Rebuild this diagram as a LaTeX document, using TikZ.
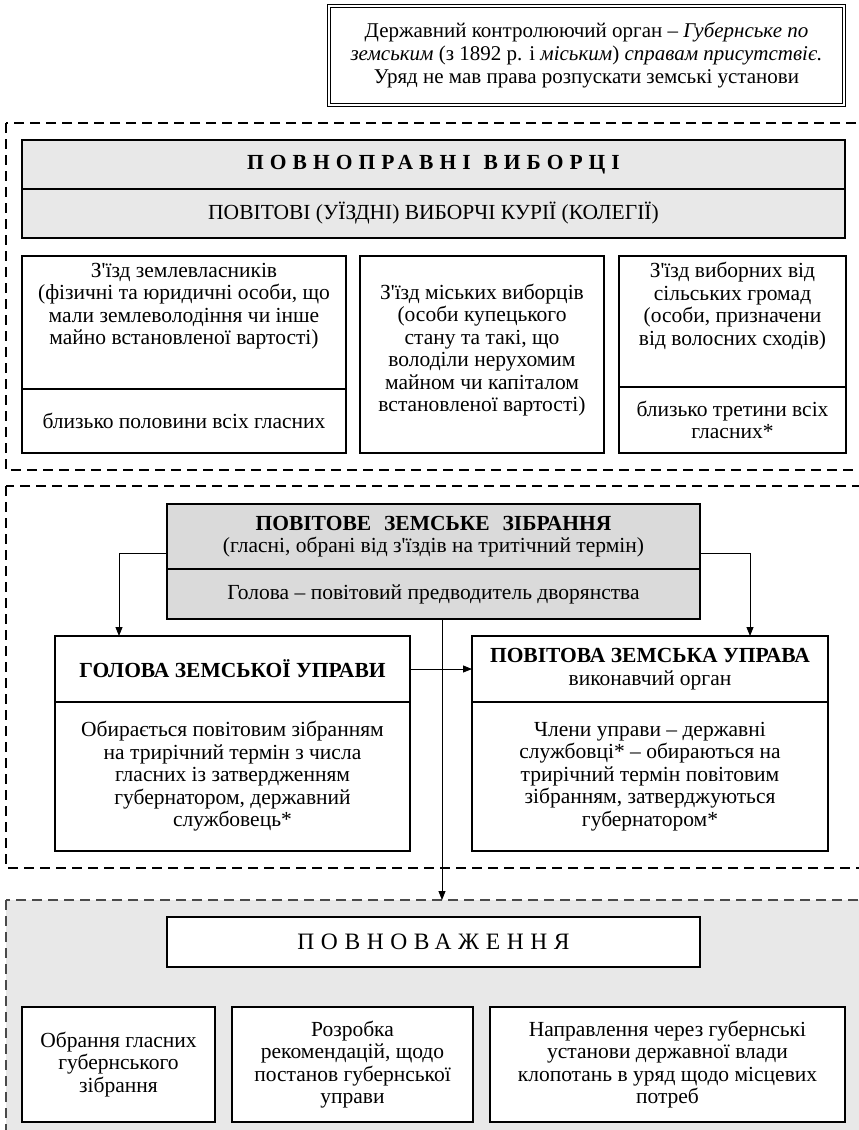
\documentclass[tikz,border=0pt]{standalone}
\usepackage{fontspec}
\setmainfont{Liberation Serif}
\newfontface\apfont{Liberation Serif}
\usetikzlibrary{arrows.meta,calc}
\definecolor{lightg}{HTML}{E8E8E8}
\definecolor{midg}{HTML}{DADADA}
\definecolor{dashg}{HTML}{4A4A4A}
\newcommand\apo{{\apfont '}}
\begin{document}
\begin{tikzpicture}[x=1pt,y=-1pt,
  every node/.style={font=\fontsize{21.5}{22.5}\selectfont, align=center, inner sep=0pt, outer sep=0pt},
  rect/.style={draw, line width=1.4pt, anchor=north west},
  frame/.style={draw, dash pattern=on 10pt off 6pt, line width=1.4pt},
  conn/.style={line width=0.9pt},
  arr/.style={conn, -{Triangle[length=9pt,width=7pt]}},
  hd/.style={font=\fontsize{21.5}{22.5}\selectfont\bfseries}
]
\useasboundingbox (0,0) rectangle (859,1130);

% top control box
\node[draw, double, double distance=2pt, line width=1pt, minimum width=515pt, minimum height=99pt,
  anchor=north west, font=\fontsize{21}{23}\selectfont] (ctrl) at (329,6)
  {Державний контролюючий орган – \textit{Губернське по}\\
   \textit{земським} (з 1892 р. і \textit{міським}) \textit{справам присутствіє.}\\
   Уряд не мав права розпускати земські установи};

% frame 1
\draw[frame] (6,123) rectangle (900,470);
\node[rect, fill=lightg, minimum width=823pt, minimum height=49pt] (hdr1) at (22,140)
  {\bfseries\addfontfeature{LetterSpace=28}ПОВНОПРАВНІ\hspace{0.6em}ВИБОРЦІ};
\node[rect, fill=lightg, minimum width=823pt, minimum height=49pt] (hdr2) at (22,189)
  {ПОВІТОВІ (УЇЗДНІ) ВИБОРЧІ КУРІЇ (КОЛЕГІЇ)};

\node[rect, minimum width=324pt, minimum height=133pt] (b1t) at (22,256) {};
\node[rect, minimum width=324pt, minimum height=64pt] (b1b) at (22,389) {близько половини всіх гласних};
\node (t1) at (184,306) {З\apo їзд землевласників\\(фізичні та юридичні особи, що\\мали землеволодіння чи інше\\майно встановленої вартості)};

\node[rect, minimum width=244pt, minimum height=197pt] (b2) at (360,256) {};
\node (t2) at (482,350) {З\apo їзд міських виборців\\(особи купецького\\стану та такі, що\\володіли нерухомим\\майном чи капіталом\\встановленої вартості)};

\node[rect, minimum width=227pt, minimum height=131pt] (b3t) at (619,256) {};
\node[rect, minimum width=227pt, minimum height=66pt] (b3b) at (619,387) {близько третини всіх\\гласних*};
\node (t3) at (732.5,306) {З\apo їзд виборних від\\сільських громад\\(особи, призначени\\від волосних сходів)};

% frame 2
\draw[frame] (6,486) rectangle (900,868);
\node[rect, fill=midg, minimum width=533pt, minimum height=65pt, font=\fontsize{21.5}{21.5}\selectfont] (g1) at (167,504)
  {\textbf{ПОВІТОВЕ\hspace{0.6em}ЗЕМСЬКЕ\hspace{0.6em}ЗІБРАННЯ}\\(гласні, обрані від з\apo їздів на тритічний термін)};
\node[rect, fill=midg, minimum width=533pt, minimum height=50pt] (g2) at (167,569)
  {Голова – повітовий предводитель дворянства};

\node[rect, fill=white, minimum width=355pt, minimum height=66pt, hd] (L1) at (55,636) {ГОЛОВА ЗЕМСЬКОЇ УПРАВИ};
\node[rect, fill=white, minimum width=355pt, minimum height=149pt] (L2) at (55,702)
  {Обирається повітовим зібранням\\на трирічний термін з числа\\гласних із затвердженням\\губернатором, державний\\службовець*};
\node[rect, fill=white, minimum width=356pt, minimum height=66pt] (R1) at (472,636)
  {\textbf{ПОВІТОВА ЗЕМСЬКА УПРАВА}\\виконавчий орган};
\node[rect, fill=white, minimum width=356pt, minimum height=149pt] (R2) at (472,702)
  {Члени управи – державні\\службовці* – обираються на\\трирічний термін повітовим\\зібранням, затверджуються\\губернатором*};

% frame 3
\draw[frame, draw=dashg, fill=lightg] (6,900) rectangle (900,1200);
\node[rect, fill=white, minimum width=533pt, minimum height=50pt, font=\fontsize{23.5}{26}\selectfont] (pw) at (167,917)
  {\addfontfeature{LetterSpace=28}ПОВНОВАЖЕННЯ};
\node[rect, fill=white, minimum width=193pt, minimum height=115pt] (p1) at (22,1007)
  {Обрання гласних\\губернського\\зібрання};
\node[rect, fill=white, minimum width=241pt, minimum height=115pt] (p2) at (232,1007)
  {Розробка\\рекомендацій, щодо\\постанов губернської\\управи};
\node[rect, fill=white, minimum width=355pt, minimum height=115pt] (p3) at (490,1007)
  {Направлення через губернські\\установи державної влади\\клопотань в уряд щодо місцевих\\потреб};

% connectors
\coordinate (lc) at (119,553);
\coordinate (rc) at (750,553);
\coordinate (f3) at (442,900);
\draw[arr] ($(g1.south west)+(0,-16)$) -- (lc) -- (lc |- L1.north);
\draw[arr] ($(g1.south east)+(0,-16)$) -- (rc) -- (rc |- R1.north);
\draw[arr] (g2.south -| f3) -- (f3);
\draw[arr] (L1.east) -- (L1.east -| R1.west);
\end{tikzpicture}
\end{document}
